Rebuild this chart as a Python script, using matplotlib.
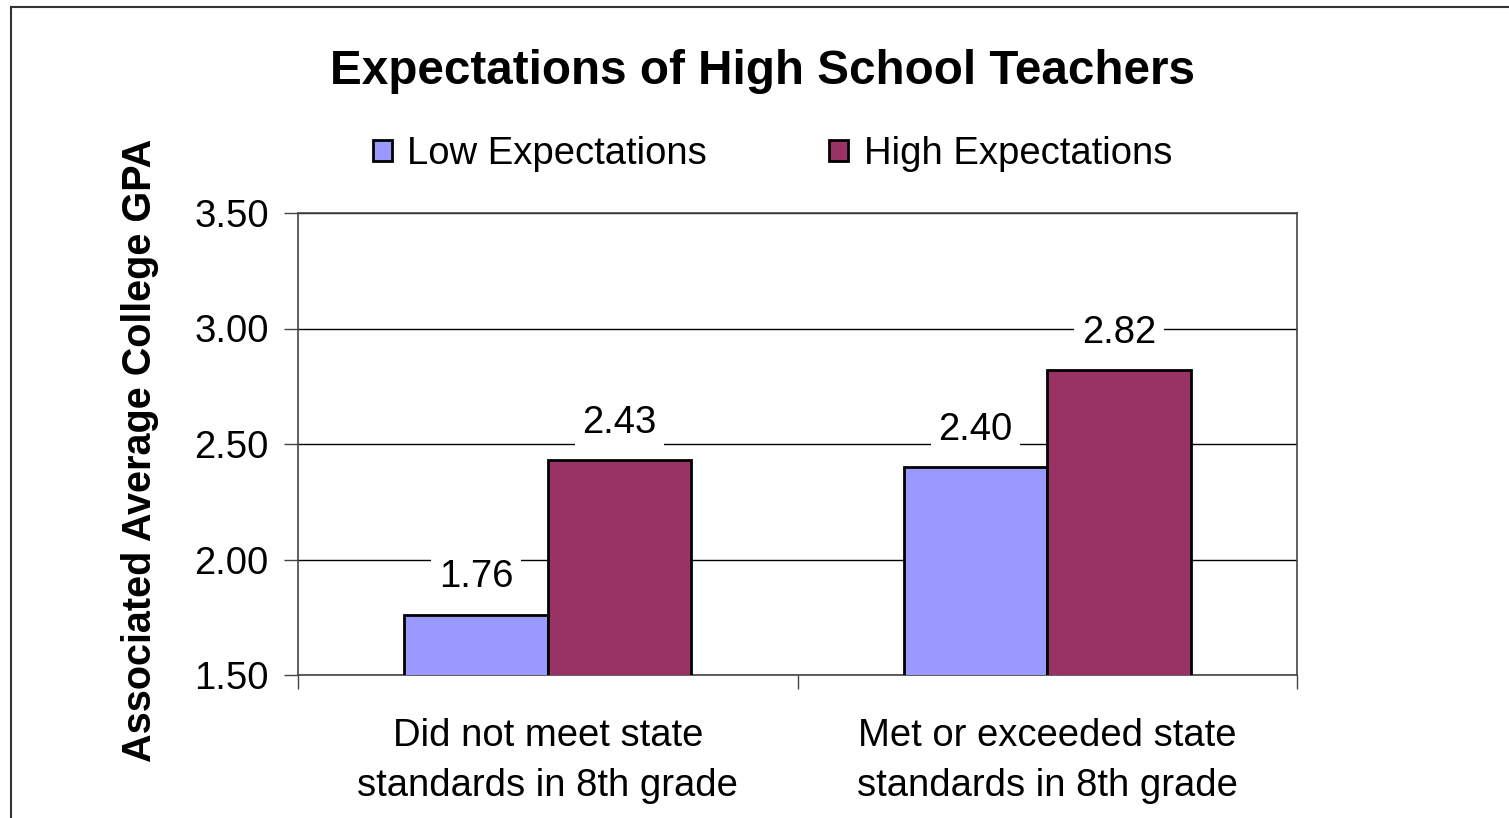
import numpy as np
import matplotlib
matplotlib.use('Agg')
import matplotlib.pyplot as plt
from matplotlib.lines import Line2D

plt.rcParams['font.family'] = ['Liberation Sans', 'DejaVu Sans']

categories = ['Did not meet state\nstandards in 8th grade',
              'Met or exceeded state\nstandards in 8th grade']
series_names = ['Low Expectations', 'High Expectations']
low_vals = [1.76, 2.40]
high_vals = [2.43, 2.82]
yticks = [1.50, 2.00, 2.50, 3.00, 3.50]
colors = ['#9999FF', '#993366']

W, H = 1509, 818
fig = plt.figure(figsize=(W / 100, H / 100), dpi=100)
ax = fig.add_axes([298 / W, 1 - 675 / H, 999 / W, 462 / H])

x = np.arange(len(categories))
w = 0.287
b1 = ax.bar(x - w / 2, low_vals, w, color=colors[0], edgecolor='black',
            linewidth=2, label=series_names[0], zorder=3)
b2 = ax.bar(x + w / 2, high_vals, w, color=colors[1], edgecolor='black',
            linewidth=2, label=series_names[1], zorder=3)

ax.set_ylim(1.5, 3.5)
ax.set_xlim(-0.5, 1.5)
ax.set_yticks(yticks)
ax.set_yticklabels(['%.2f' % v for v in yticks])
ax.yaxis.grid(True, color='black', linewidth=1, zorder=0)
ax.set_axisbelow(True)

# category boundaries get the tick marks, centres get the labels
ax.set_xticks([-0.5, 0.5, 1.5])
ax.set_xticklabels([])
ax.set_xticks(x, minor=True)
ax.set_xticklabels(categories, minor=True, fontsize=27.5, linespacing=1.5)
ax.tick_params(axis='x', which='minor', length=0, pad=31)
ax.tick_params(axis='x', which='major', length=10, width=1, color='#444444')
ax.tick_params(axis='y', length=10, width=1, color='#444444', labelsize=27.5, pad=11)

for s in ax.spines.values():
    s.set_color('#444444')
    s.set_linewidth(1.2)

for bars in (b1, b2):
    for r in bars:
        v = r.get_height()
        ax.annotate('%.2f' % v, (r.get_x() + r.get_width() / 2, v),
                    xytext=(0, 27), textcoords='offset points',
                    ha='center', va='center', fontsize=27.5, zorder=4,
                    bbox=dict(boxstyle='square,pad=0.2', fc='white', ec='none'))

ax.set_ylabel('Associated Average College GPA', fontsize=28.5, fontweight='bold', va='center')
ax.yaxis.set_label_coords(-0.158, 0.487)

ax.legend(loc='center', bbox_to_anchor=(0.475, (675 - 154) / 462),
          ncol=2, frameon=False, fontsize=27.5, handlelength=0.5,
          handleheight=0.5, handletextpad=0.4, columnspacing=3.2,
          borderaxespad=0)

fig.text(763 / W, 1 - 71 / H, 'Expectations of High School Teachers',
         ha='center', va='center', fontsize=34.3, fontweight='bold')

fig.add_artist(Line2D([11 / W, 11 / W], [0, 1 - 7 / H], transform=fig.transFigure,
                      color='#333333', linewidth=1.5))
fig.add_artist(Line2D([11 / W, 1], [1 - 7 / H, 1 - 7 / H], transform=fig.transFigure,
                      color='#333333', linewidth=1.5))

fig.savefig('out.png', dpi=100, facecolor='white')
